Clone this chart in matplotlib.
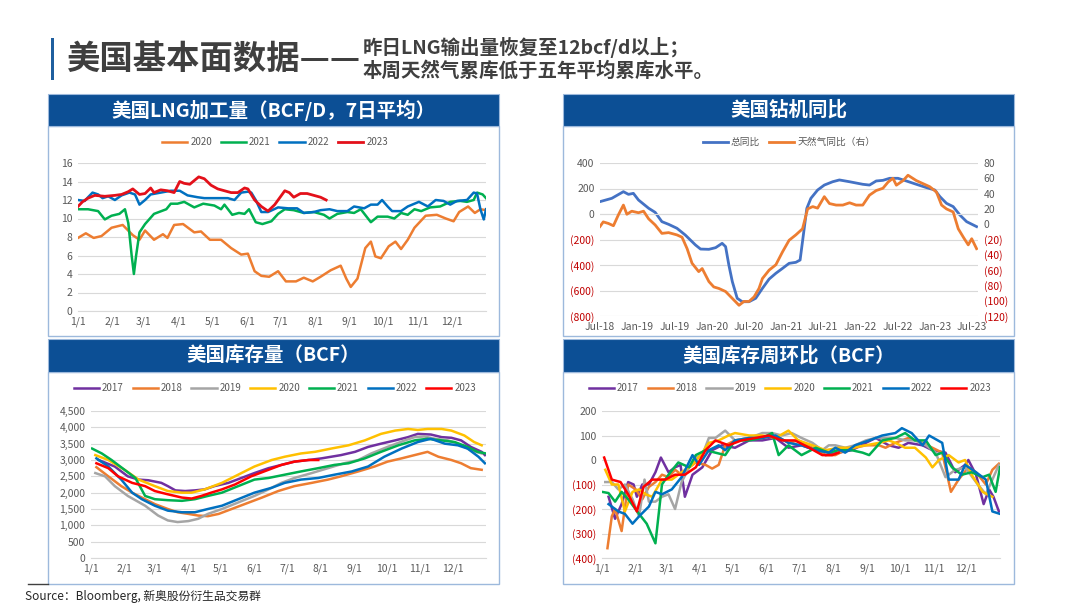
import numpy as np
import pandas as pd
import matplotlib
matplotlib.use("Agg")
import matplotlib.pyplot as plt
import matplotlib.dates as mdates
from matplotlib.patches import Rectangle

plt.rcParams["font.family"] = ["Noto Sans CJK SC", "DejaVu Sans"]

# -----------------------------
# Data
# -----------------------------
MONTH_DAYS = [0, 31, 59, 90, 120, 151, 181, 212, 243, 273, 304, 334]
MONTH_LABELS = ["1/1", "2/1", "3/1", "4/1", "5/1", "6/1", "7/1", "8/1", "9/1", "10/1", "11/1", "12/1"]

# LNG feedgas (BCF/D, 7d avg), day of year -> value
lng_2020_day = [0, 7, 14, 21, 30, 40, 49, 55, 60, 68, 76, 80, 86, 94, 104, 110, 118, 128, 137, 146, 152,
                158, 164, 171, 179, 186, 195, 202, 210, 217, 226, 235, 240, 244, 250, 257, 262, 266, 271,
                278, 284, 289, 295, 301, 311, 321, 329, 336, 341, 349, 355, 360, 365]
lng_2020_val = [7.9, 8.4, 7.9, 8.1, 9.0, 9.3, 8.2, 7.7, 8.7, 7.7, 8.3, 7.9, 9.3, 9.4, 8.5, 8.6, 7.7, 7.7,
                6.8, 6.1, 6.2, 4.3, 3.8, 3.7, 4.3, 3.2, 3.2, 3.6, 3.2, 3.7, 4.4, 4.9, 3.5, 2.6, 3.5, 6.8,
                7.5, 5.9, 5.7, 7.0, 7.5, 6.7, 7.7, 9.0, 10.3, 10.4, 10.0, 9.7, 10.7, 11.3, 10.6, 11.0, 10.9]
lng_2021_day = [0, 9, 18, 24, 30, 37, 42, 45, 48, 50, 52, 55, 60, 68, 79, 83, 89, 95, 104, 112, 122, 128,
                131, 138, 144, 149, 153, 159, 165, 173, 179, 185, 193, 202, 211, 220, 225, 232, 241, 247,
                253, 262, 268, 277, 283, 289, 295, 301, 307, 315, 324, 333, 342, 348, 354, 357, 362, 365]
lng_2021_val = [11.0, 11.0, 10.8, 9.9, 10.3, 10.5, 11.0, 9.5, 6.0, 4.0, 6.0, 8.5, 9.4, 10.5, 11.0, 11.6,
                11.6, 11.8, 11.2, 11.6, 11.4, 11.0, 11.5, 10.4, 10.6, 10.5, 11.0, 9.6, 9.4, 9.7, 10.5,
                11.0, 10.9, 10.6, 10.7, 10.4, 10.0, 10.5, 10.7, 10.6, 11.0, 9.6, 10.2, 10.2, 10.0, 10.6,
                10.4, 11.0, 10.8, 11.2, 11.3, 11.8, 11.9, 11.8, 12.0, 12.8, 12.6, 12.2]
lng_2022_day = [0, 6, 9, 13, 18, 22, 27, 33, 39, 46, 51, 55, 60, 65, 74, 83, 91, 98, 107, 113, 122, 134,
                140, 146, 152, 155, 159, 164, 170, 179, 188, 196, 202, 211, 217, 225, 232, 241, 247, 256,
                262, 268, 272, 277, 281, 289, 295, 301, 305, 313, 320, 327, 333, 339, 348, 354, 357, 360,
                363, 365]
lng_2022_val = [12.0, 11.9, 12.3, 12.8, 12.6, 12.2, 12.4, 12.0, 12.5, 12.8, 12.6, 11.5, 12.0, 12.6, 12.8,
                13.0, 13.0, 12.5, 12.3, 12.2, 12.2, 12.2, 12.0, 12.8, 12.9, 12.8, 12.0, 10.7, 10.7, 11.2,
                11.1, 11.1, 10.6, 10.7, 10.9, 11.0, 10.8, 10.8, 11.3, 11.1, 11.5, 11.5, 12.0, 11.3, 10.8,
                10.8, 11.3, 11.6, 11.8, 11.3, 12.0, 11.9, 11.5, 11.9, 12.0, 12.8, 12.7, 11.0, 9.9, 11.0]
lng_2023_day = [0, 4, 9, 15, 24, 33, 39, 45, 49, 55, 60, 65, 68, 74, 80, 86, 91, 95, 100, 104, 108, 113,
                119, 125, 131, 137, 143, 149, 152, 158, 164, 170, 176, 182, 185, 189, 193, 199, 205, 211,
                217, 222]
lng_2023_val = [11.3, 11.8, 12.2, 12.5, 12.4, 12.5, 12.6, 12.9, 13.2, 12.6, 12.7, 13.3, 12.8, 13.1, 13.0,
                12.8, 14.0, 13.8, 13.7, 14.1, 14.5, 14.3, 13.6, 13.2, 13.0, 12.8, 12.8, 13.3, 13.2, 12.0,
                11.3, 10.8, 11.5, 12.5, 13.0, 12.8, 12.3, 12.7, 12.7, 12.5, 12.3, 12.0]

# Rig count YoY
rig_total_date = ["2018-07-01", "2018-08-28", "2018-10-24", "2018-11-18", "2018-12-12", "2019-01-06",
                  "2019-02-25", "2019-03-29", "2019-05-01", "2019-06-03", "2019-07-14", "2019-08-24",
                  "2019-10-13", "2019-11-07", "2019-12-18", "2020-01-20", "2020-02-21", "2020-03-09",
                  "2020-03-25", "2020-04-11", "2020-05-05", "2020-05-30", "2020-07-02", "2020-08-04",
                  "2020-09-06", "2020-10-09", "2020-11-11", "2020-12-14", "2021-01-15", "2021-02-17",
                  "2021-03-10", "2021-03-26", "2021-04-12", "2021-05-02", "2021-06-04", "2021-07-07",
                  "2021-08-17", "2021-09-19", "2021-11-08", "2022-01-12", "2022-02-14", "2022-03-19",
                  "2022-04-21", "2022-05-24", "2022-07-04", "2022-08-14", "2022-10-02", "2022-11-21",
                  "2023-01-01", "2023-01-26", "2023-02-27", "2023-04-01", "2023-05-04", "2023-06-06",
                  "2023-07-25"]
rig_total_val = [97, 123, 175, 154, 162, 110, 45, 13, -60, -81, -112, -165, -243, -275, -277, -264, -230,
                 -256, -400, -530, -661, -688, -688, -661, -583, -510, -465, -426, -387, -379, -361, -165,
                 44, 123, 188, 227, 253, 267, 253, 233, 227, 259, 264, 280, 280, 259, 233, 207, 188, 136,
                 84, 58, -8, -60, -99]
rig_gas_date = ["2018-07-01", "2018-07-17", "2018-08-11", "2018-09-05", "2018-09-29", "2018-10-24",
                "2018-11-10", "2018-12-04", "2019-01-06", "2019-01-31", "2019-02-25", "2019-03-29",
                "2019-05-01", "2019-06-03", "2019-07-14", "2019-08-08", "2019-09-02", "2019-09-26",
                "2019-10-29", "2019-11-15", "2019-12-18", "2020-01-11", "2020-02-05", "2020-03-09",
                "2020-04-11", "2020-05-14", "2020-06-07", "2020-07-02", "2020-07-27", "2020-08-20",
                "2020-09-06", "2020-10-09", "2020-11-11", "2020-12-14", "2021-01-15", "2021-02-17",
                "2021-03-22", "2021-04-16", "2021-05-11", "2021-06-04", "2021-07-07", "2021-08-01",
                "2021-09-03", "2021-10-06", "2021-11-08", "2021-12-10", "2022-01-12", "2022-02-14",
                "2022-03-19", "2022-04-21", "2022-05-16", "2022-06-09", "2022-06-26", "2022-07-29",
                "2022-08-22", "2022-10-02", "2022-11-04", "2022-12-07", "2023-01-09", "2023-02-03",
                "2023-02-27", "2023-04-01", "2023-04-26", "2023-05-21", "2023-06-14", "2023-07-01",
                "2023-07-25"]
rig_gas_val = [-3, 3, 1, -2, 12, 25, 13, 17, 15, 17, 7, -1, -12, -11, -14, -17, -32, -51, -62, -58, -75,
               -82, -84, -88, -97, -106, -101, -101, -95, -84, -71, -60, -53, -36, -21, -14, -6, 20, 23,
               21, 36, 27, 25, 25, 28, 25, 25, 38, 44, 47, 55, 60, 51, 57, 64, 57, 53, 49, 42, 25, 20, 16,
               -6, -17, -27, -19, -32]

# Storage (BCF)
stor_2017_day = [7, 22, 34, 44, 53, 65, 71, 78, 87, 96, 105, 114, 127, 139, 151, 164, 176, 188, 201, 213,
                 222, 231, 244, 256, 268, 281, 293, 302, 314, 324, 333, 342, 351, 361, 364]
stor_2017_val = [3000, 2800, 2500, 2400, 2380, 2300, 2200, 2070, 2050, 2070, 2100, 2200, 2300, 2450, 2600,
                 2750, 2850, 2950, 3000, 3050, 3100, 3150, 3250, 3400, 3500, 3600, 3700, 3800, 3780, 3700,
                 3680, 3600, 3400, 3250, 3150]
stor_2018_day = [5, 16, 28, 38, 50, 59, 71, 80, 90, 99, 108, 118, 130, 142, 158, 173, 188, 204, 219, 231,
                 247, 262, 274, 287, 299, 311, 321, 333, 342, 351, 361]
stor_2018_val = [2780, 2500, 2200, 2000, 1800, 1650, 1500, 1400, 1350, 1300, 1280, 1350, 1500, 1650, 1850,
                 2050, 2200, 2300, 2400, 2500, 2650, 2800, 2950, 3050, 3150, 3250, 3100, 3000, 2900, 2750,
                 2700]
stor_2019_day = [4, 13, 22, 34, 50, 62, 71, 80, 90, 99, 108, 121, 136, 151, 164, 176, 188, 204, 219, 234,
                 247, 259, 274, 290, 299, 308, 318, 330, 339, 351, 361]
stor_2019_val = [2600, 2500, 2200, 1900, 1600, 1300, 1150, 1100, 1130, 1200, 1350, 1500, 1700, 1900, 2100,
                 2300, 2450, 2600, 2750, 2900, 3000, 3200, 3400, 3600, 3700, 3720, 3650, 3600, 3500, 3300,
                 3200]
stor_2020_day = [4, 16, 31, 44, 59, 71, 84, 93, 105, 121, 136, 151, 167, 179, 194, 207, 222, 238, 253, 268,
                 281, 293, 302, 311, 324, 333, 345, 354, 361]
stor_2020_val = [3150, 3000, 2700, 2400, 2200, 2050, 2000, 2000, 2100, 2300, 2550, 2800, 3000, 3100, 3200,
                 3250, 3350, 3450, 3600, 3800, 3900, 3950, 3920, 3950, 3950, 3900, 3750, 3550, 3450]
stor_2021_day = [1, 10, 19, 31, 41, 50, 59, 71, 84, 96, 108, 121, 136, 151, 164, 179, 194, 210, 225, 238,
                 253, 268, 284, 299, 311, 324, 336, 348, 357, 365]
stor_2021_val = [3350, 3200, 3000, 2700, 2450, 1900, 1800, 1770, 1750, 1800, 1900, 2000, 2200, 2400, 2450,
                 2550, 2650, 2750, 2850, 2900, 3050, 3250, 3450, 3600, 3650, 3600, 3550, 3400, 3250, 3200]
stor_2022_day = [5, 16, 28, 38, 47, 59, 71, 84, 96, 108, 121, 136, 151, 167, 179, 194, 210, 225, 241, 256,
                 271, 287, 302, 314, 327, 339, 348, 358, 364]
stor_2022_val = [3050, 2800, 2400, 2000, 1800, 1600, 1450, 1400, 1400, 1500, 1600, 1800, 2000, 2150, 2300,
                 2400, 2450, 2550, 2650, 2800, 3100, 3350, 3550, 3650, 3500, 3450, 3350, 3100, 2900]
stor_2023_day = [5, 16, 25, 38, 50, 59, 71, 84, 93, 102, 111, 121, 133, 148, 164, 176, 188, 201, 210]
stor_2023_val = [2900, 2750, 2500, 2300, 2200, 2050, 1950, 1850, 1820, 1900, 2000, 2100, 2250, 2500, 2700,
                 2850, 2950, 3000, 3000]

# Weekly storage change (BCF)
chg_2017_day = [6, 12, 18, 24, 29, 32, 37, 43, 49, 54, 61, 67, 72, 76, 83, 92, 101, 110, 122, 135, 147, 159,
                171, 183, 196, 205, 217, 229, 242, 251, 263, 272, 281, 294, 303, 315, 324, 333, 336, 343,
                350, 355, 359, 364]
chg_2017_val = [-150, -240, -180, -90, -100, -150, -100, -100, -50, 10, -50, -30, -20, -150, -60, -30, 40,
                60, 50, 80, 80, 90, 50, 60, 40, 20, 30, 40, 70, 90, 60, 50, 70, 60, 40, 30, -50, -20, 0,
                -60, -180, -120, -150, -210]
chg_2018_day = [5, 9, 12, 18, 24, 31, 37, 43, 49, 55, 61, 67, 73, 80, 86, 95, 101, 107, 113, 122, 135, 147,
                159, 171, 180, 193, 205, 214, 223, 232, 242, 254, 260, 269, 281, 294, 303, 312, 320, 327,
                336, 343, 352, 358, 364]
chg_2018_val = [-360, -230, -200, -290, -100, -120, -160, -110, -90, -60, -70, -40, -60, -30, -10, -20, -35,
                -20, 60, 80, 90, 90, 100, 70, 80, 50, 20, 20, 40, 50, 60, 60, 50, 70, 90, 70, 50, 30, -130,
                -80, -30, -50, -100, -40, -15]
chg_2019_day = [3, 9, 15, 21, 28, 34, 39, 43, 49, 55, 61, 67, 73, 80, 86, 92, 98, 104, 113, 122, 135, 147,
                156, 165, 174, 183, 193, 202, 208, 214, 223, 232, 242, 251, 260, 269, 278, 287, 297, 306,
                315, 324, 333, 343, 352, 361, 364]
chg_2019_val = [-90, -90, -120, -100, -160, -230, -80, -170, -170, -150, -140, -200, -90, -30, 10, 20, 90, 90,
                120, 80, 90, 110, 110, 100, 110, 90, 70, 40, 60, 60, 50, 60, 80, 90, 90, 90, 80, 80, 60,
                30, -70, -40, -30, -90, -140, -50, -20]
chg_2020_day = [3, 9, 15, 21, 28, 34, 40, 46, 55, 64, 73, 83, 92, 98, 107, 116, 122, 135, 147, 159, 171, 180,
                193, 205, 217, 229, 242, 254, 263, 269, 278, 287, 297, 303, 309, 318, 327, 333, 339, 349,
                358]
chg_2020_val = [-40, -100, -100, -210, -130, -120, -140, -150, -80, -80, -50, -20, 30, 70, 80, 100, 110, 100,
                100, 90, 120, 80, 60, 40, 50, 50, 60, 70, 80, 70, 50, 50, 10, -30, 0, 20, -10, 0, -60, -130,
                -150]
chg_2021_day = [0, 6, 12, 18, 24, 34, 41, 49, 55, 61, 70, 80, 86, 95, 104, 113, 122, 135, 147, 156, 162, 171,
                183, 196, 208, 217, 229, 239, 245, 257, 269, 278, 287, 297, 306, 312, 321, 330, 339, 349,
                355, 361, 365]
chg_2021_val = [-130, -135, -170, -130, -160, -220, -260, -340, -100, -60, -10, -30, 20, 40, 30, 20, 80, 80,
                90, 110, 20, 60, 20, 50, 30, 40, 40, 30, 20, 80, 90, 110, 80, 80, 20, 30, -30, -60, -50, -70,
                -60, -130, -30]
chg_2022_day = [6, 15, 21, 28, 34, 43, 49, 55, 64, 73, 83, 89, 98, 107, 113, 122, 135, 147, 159, 171, 183,
                196, 208, 214, 223, 232, 245, 257, 269, 275, 284, 294, 300, 312, 318, 327, 333, 343, 352,
                358, 365]
chg_2022_val = [-180, -210, -220, -260, -230, -190, -130, -140, -120, -70, 20, -20, 40, 60, 40, 80, 90, 90,
                100, 70, 60, 40, 30, 50, 30, 60, 80, 100, 110, 130, 110, 60, 100, 70, -80, -80, -20, -50,
                -80, -210, -220]
chg_2023_day = [2, 9, 17, 24, 32, 38, 46, 52, 58, 67, 76, 86, 95, 104, 116, 128, 141, 153, 165, 177, 190, 202,
                211, 217]
chg_2023_val = [10, -80, -90, -140, -210, -110, -80, -80, -80, -60, -60, -30, 40, 80, 60, 80, 90, 100, 80, 80,
                50, 20, 20, 30]

# -----------------------------
# Styles / layout helpers
# -----------------------------
W, H = 1080, 608
HEAD_BLUE = "#0c4f95"
BORDER = "#9db9dc"
GRID = "#d9d9d9"
TICK = "#595959"
NEG = "#c00000"
YEAR_COLORS = {"2017": "#7030a0", "2018": "#ed7d31", "2019": "#a5a5a5", "2020": "#ffc000",
               "2021": "#00b050", "2022": "#0070c0", "2023": "#ff0000"}

fig = plt.figure(figsize=(W / 100, H / 100), dpi=100)
fig.patch.set_facecolor("white")


def rect(x0, y0, x1, y1):
    return [x0 / W, 1 - y1 / H, (x1 - x0) / W, (y1 - y0) / H]


def panel(x0, x1, y0, ymid, y1, title):
    # box + blue header, drawn beneath the axes
    fig.patches.append(Rectangle((x0 / W, 1 - y1 / H), (x1 - x0) / W, (y1 - ymid) / H,
                                 transform=fig.transFigure, facecolor="white", edgecolor=BORDER, lw=1.0,
                                 zorder=-2))
    fig.patches.append(Rectangle((x0 / W, 1 - ymid / H), (x1 - x0) / W, (ymid - y0) / H,
                                 transform=fig.transFigure, facecolor=HEAD_BLUE, edgecolor=BORDER, lw=0.8,
                                 zorder=-2))
    fig.text((x0 + x1) / 2 / W, 1 - (y0 + ymid) / 2 / H, title, color="white", fontsize=14,
             fontweight="bold", ha="center", va="center")


def style_axes(ax):
    for s in ["top", "right", "left"]:
        ax.spines[s].set_visible(False)
    ax.spines["bottom"].set_color(GRID)
    ax.grid(axis="y", color=GRID, lw=0.8)
    ax.set_axisbelow(True)
    ax.tick_params(length=0, labelsize=7.5, colors=TICK, pad=4)
    ax.set_facecolor("none")


def paren_labels(ax, ticks):
    labels = ["({:,})".format(abs(t)) if t < 0 else "{:,}".format(t) for t in ticks]
    ax.set_yticks(ticks, labels)
    for t, lab in zip(ticks, ax.get_yticklabels()):
        if t < 0:
            lab.set_color(NEG)


def legend(ax, cx, cy, ncol, handles=None, labels=None):
    kw = dict(loc="center", bbox_to_anchor=(cx / W, 1 - cy / H), bbox_transform=fig.transFigure,
              ncol=ncol, frameon=False, fontsize=7, handlelength=2.6, columnspacing=0.9,
              handletextpad=0.3, labelcolor=TICK)
    if handles is None:
        ax.legend(**kw)
    else:
        ax.legend(handles, labels, **kw)


def month_axis(ax):
    ax.set_xlim(0, 365)
    ax.set_xticks(MONTH_DAYS, MONTH_LABELS)


# -----------------------------
# Header
# -----------------------------
fig.patches.append(Rectangle((51 / W, 1 - 80 / H), 3 / W, 42 / H, transform=fig.transFigure,
                             facecolor="#1f5f9f", edgecolor="none"))
fig.text(66 / W, 1 - 59 / H, "美国基本面数据——", fontsize=24, fontweight="bold", color="#3f3f3f",
         ha="left", va="center")
fig.text(363 / W, 1 - 47 / H, "昨日LNG输出量恢复至12bcf/d以上；", fontsize=14, fontweight="bold",
         color="#3f3f3f", ha="left", va="center")
fig.text(363 / W, 1 - 71 / H, "本周天然气累库低于五年平均累库水平。", fontsize=14, fontweight="bold",
         color="#3f3f3f", ha="left", va="center")

panel(48, 499, 94, 126, 336, "美国LNG加工量（BCF/D，7日平均）")
panel(563, 1014, 94, 126, 336, "美国钻机同比")
panel(48, 499, 339, 372, 584, "美国库存量（BCF）")
panel(563, 1014, 339, 372, 584, "美国库存周环比（BCF）")

# -----------------------------
# Panel 1: LNG feedgas
# -----------------------------
ax1 = fig.add_axes(rect(78, 163, 486, 311))
style_axes(ax1)
ax1.plot(lng_2020_day, lng_2020_val, color="#ed7d31", lw=1.8, label="2020")
ax1.plot(lng_2021_day, lng_2021_val, color="#00b050", lw=1.8, label="2021")
ax1.plot(lng_2022_day, lng_2022_val, color="#0070c0", lw=1.8, label="2022")
ax1.plot(lng_2023_day, lng_2023_val, color="#e3101a", lw=2.0, label="2023")
ax1.set_ylim(0, 16)
ax1.set_yticks(range(0, 17, 2))
month_axis(ax1)
legend(ax1, 275, 142, 4)

# -----------------------------
# Panel 2: rig count YoY
# -----------------------------
ax2 = fig.add_axes(rect(600, 163, 978, 316))
style_axes(ax2)
ax2.spines["bottom"].set_visible(False)
ax2b = ax2.twinx()
style_axes(ax2b)
ax2b.spines["bottom"].set_visible(False)
ax2b.grid(False)
l1, = ax2.plot(pd.to_datetime(rig_total_date), rig_total_val, color="#4472c4", lw=2.0)
l2, = ax2b.plot(pd.to_datetime(rig_gas_date), rig_gas_val, color="#ed7d31", lw=2.0)
ax2.set_ylim(-800, 400)
ax2b.set_ylim(-120, 80)
paren_labels(ax2, list(range(-800, 401, 200)))
paren_labels(ax2b, list(range(-120, 81, 20)))
ax2.axhline(0, color=GRID, lw=0.8)
ax2.set_xlim(pd.Timestamp("2018-07-01"), pd.Timestamp("2023-08-01"))
ax2.set_xticks(pd.date_range("2018-07-01", "2023-07-01", freq="6MS"))
ax2.xaxis.set_major_formatter(mdates.DateFormatter("%b-%y"))
legend(ax2, 789, 142, 2, [l1, l2], ["总同比", "天然气同比（右）"])

# -----------------------------
# Panel 3: storage
# -----------------------------
ax3 = fig.add_axes(rect(91, 411, 486, 558))
style_axes(ax3)
stor = [("2017", stor_2017_day, stor_2017_val), ("2018", stor_2018_day, stor_2018_val),
        ("2019", stor_2019_day, stor_2019_val), ("2020", stor_2020_day, stor_2020_val),
        ("2021", stor_2021_day, stor_2021_val), ("2022", stor_2022_day, stor_2022_val),
        ("2023", stor_2023_day, stor_2023_val)]
for yr, d, v in stor:
    ax3.plot(d, v, color=YEAR_COLORS[yr], lw=1.8, label=yr)
ax3.set_ylim(0, 4500)
ax3.set_yticks(range(0, 4501, 500), ["{:,}".format(t) for t in range(0, 4501, 500)])
month_axis(ax3)
legend(ax3, 275, 388, 7)

# -----------------------------
# Panel 4: weekly change
# -----------------------------
ax4 = fig.add_axes(rect(602, 411, 1000, 558))
style_axes(ax4)
chg = [("2017", chg_2017_day, chg_2017_val), ("2018", chg_2018_day, chg_2018_val),
       ("2019", chg_2019_day, chg_2019_val), ("2020", chg_2020_day, chg_2020_val),
       ("2021", chg_2021_day, chg_2021_val), ("2022", chg_2022_day, chg_2022_val),
       ("2023", chg_2023_day, chg_2023_val)]
for yr, d, v in chg:
    ax4.plot(d, v, color=YEAR_COLORS[yr], lw=1.8, label=yr)
ax4.set_ylim(-400, 200)
paren_labels(ax4, list(range(-400, 201, 100)))
month_axis(ax4)
legend(ax4, 790, 388, 7)

# -----------------------------
# Footer
# -----------------------------
fig.add_artist(plt.Line2D([28 / W, 48 / W], [1 - 584 / H, 1 - 584 / H], transform=fig.transFigure,
                          color="#404040", lw=1.0))
fig.text(25 / W, 1 - 596 / H, "Source：Bloomberg, 新奥股份衍生品交易群", fontsize=8.5, color="#262626",
         ha="left", va="center")

fig.savefig("out.png", dpi=100)
